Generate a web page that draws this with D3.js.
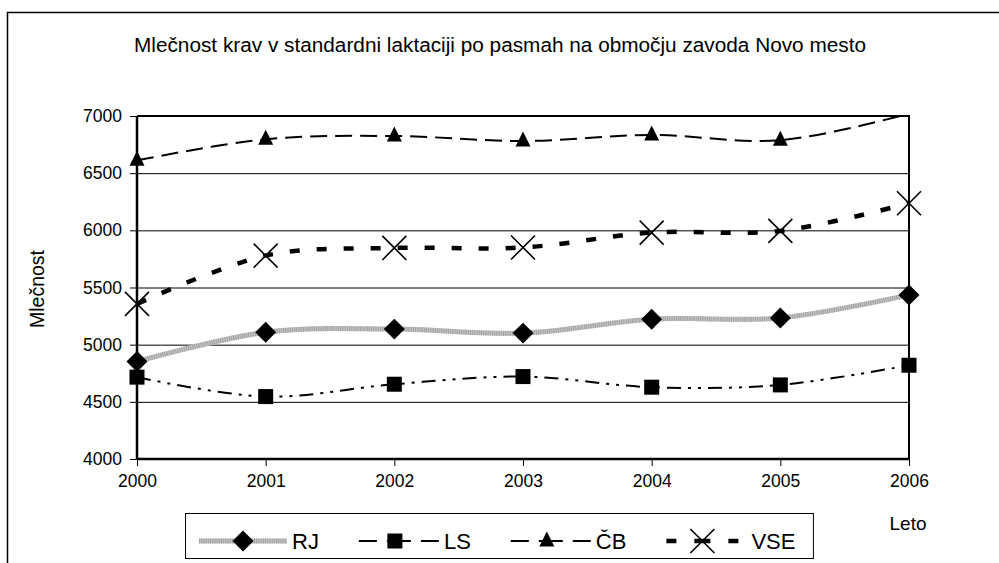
<!DOCTYPE html>
<html>
<head>
<meta charset="utf-8">
<script src="https://cdn.jsdelivr.net/npm/d3@7"></script>
<style>
  body { margin: 0; background: #fff; }
  svg { display: block; font-family: "Liberation Sans", Arial, sans-serif; }
</style>
</head>
<body>
<div id="chart"></div>
<script>
var years = ["2000", "2001", "2002", "2003", "2004", "2005", "2006"];
var rj  = [4852, 5109, 5136, 5101, 5223, 5234, 5435];
var ls  = [4716, 4546, 4654, 4721, 4628, 4648, 4820];
var cb  = [6612, 6797, 6825, 6781, 6834, 6788, 7020];
var vse = [5357, 5779, 5846, 5850, 5980, 5995, 6237];
var yTicks = [4000, 4500, 5000, 5500, 6000, 6500, 7000];
var seriesNames = ["RJ", "LS", "ČB", "VSE"];

var w = 999, h = 563;
var plotL = 137, plotR = 909, plotT = 116, plotB = 459;

var svg = d3.select("#chart").append("svg")
  .attr("width", w).attr("height", h);

// outer chart border (runs off the page on right and bottom)
svg.append("rect")
  .attr("x", 7.5).attr("y", 12.5)
  .attr("width", 1100).attr("height", 700)
  .attr("fill", "none").attr("stroke", "#000").attr("stroke-width", 1.5);

svg.append("text")
  .attr("x", 500).attr("y", 52)
  .attr("text-anchor", "middle")
  .attr("font-size", "20px")
  .attr("textLength", 732)
  .attr("lengthAdjust", "spacingAndGlyphs")
  .text("Mlečnost krav v standardni laktaciji po pasmah na območju zavoda Novo mesto");

var xScale = d3.scalePoint().domain(years).range([plotL, plotR]);
var yScale = d3.scaleLinear().domain([4000, 7000]).range([plotB, plotT]);

// gridlines
svg.append("g").selectAll("line")
  .data(yTicks.slice(1, -1))
  .enter().append("line")
  .attr("x1", plotL).attr("x2", plotR)
  .attr("y1", function(d){ return yScale(d) + 0.5; })
  .attr("y2", function(d){ return yScale(d) + 0.5; })
  .attr("stroke", "#000").attr("stroke-width", 1);

// plot area frame (top + right)
svg.append("path")
  .attr("d", "M" + plotL + "," + plotT + "H" + plotR + "V" + plotB)
  .attr("fill", "none").attr("stroke", "#000").attr("stroke-width", 2);

var yAxis = svg.append("g")
  .attr("transform", "translate(" + plotL + ",0)")
  .call(d3.axisLeft(yScale).tickValues(yTicks).tickSize(7).tickPadding(8).tickFormat(d3.format("d")));
var xAxis = svg.append("g")
  .attr("transform", "translate(0," + plotB + ")")
  .call(d3.axisBottom(xScale).tickSize(7).tickPadding(9));

[yAxis, xAxis].forEach(function(a){
  a.select(".domain").attr("stroke", "#000").attr("stroke-width", 2.5);
  a.selectAll(".tick line").attr("stroke", "#000").attr("stroke-width", 1);
  a.selectAll("text").attr("font-size", "17.5px").attr("fill", "#000")
    .attr("font-family", "'Liberation Sans', Arial, sans-serif");
});
xAxis.select(".domain").attr("d", "M" + plotL + ",0H" + plotR);
yAxis.select(".domain").attr("d", "M0," + plotB + "V" + plotT);

svg.append("text")
  .attr("transform", "translate(44,289) rotate(-90)")
  .attr("text-anchor", "middle")
  .attr("font-size", "19.5px")
  .text("Mlečnost");
svg.append("text")
  .attr("x", 908).attr("y", 530)
  .attr("text-anchor", "middle")
  .attr("font-size", "19px")
  .text("Leto");

svg.append("clipPath").attr("id", "plotclip")
  .append("rect").attr("x", plotL).attr("y", plotT - 0.5)
  .attr("width", plotR - plotL + 2).attr("height", plotB - plotT + 1);

var line = d3.line()
  .x(function(d, i){ return xScale(years[i]); })
  .y(function(d){ return yScale(d); })
  .curve(d3.curveCardinal.tension(0));

var styles = [
  { data: rj,  stroke: "#c4c4c4", width: 5, dash: null, legDash: null, marker: "diamond" },
  { data: ls,  stroke: "#000", width: 2, dash: "14,7,3,7,3,7", legDash: "0,8,18,10,24,10,18", marker: "square" },
  { data: cb,  stroke: "#000", width: 2, dash: "17,8", legDash: "0,8,18,10,24,10,18", marker: "triangle" },
  { data: vse, stroke: "#000", width: 4.5, dash: "10,17", legDash: "0,8,10,18,16,18,10,20", marker: "cross" }
];

var lines = svg.append("g").attr("clip-path", "url(#plotclip)");
styles.forEach(function(s){
  lines.append("path")
    .attr("d", line(s.data))
    .attr("fill", "none")
    .attr("stroke", s.stroke)
    .attr("stroke-width", s.width)
    .attr("stroke-dasharray", s.dash);
  if (s.marker === "diamond") {
    // hatched look of the grey line
    lines.append("path")
      .attr("d", line(s.data))
      .attr("fill", "none")
      .attr("stroke", "#a0a0a0")
      .attr("stroke-width", s.width)
      .attr("stroke-dasharray", "1,1.2");
  }
});

function drawMarker(g, type, x, y) {
  if (type === "diamond") {
    g.append("path").attr("d", d3.symbol().type(d3.symbolDiamond2).size(280)())
      .attr("transform", "translate(" + x + "," + y + ")").attr("fill", "#000");
  } else if (type === "square") {
    g.append("rect").attr("x", x - 7.5).attr("y", y - 7.5).attr("width", 15).attr("height", 15).attr("fill", "#000");
  } else if (type === "triangle") {
    g.append("path").attr("d", "M" + x + "," + (y - 9.5) + "L" + (x + 7.5) + "," + (y + 5.5) + "L" + (x - 7.5) + "," + (y + 5.5) + "Z")
      .attr("fill", "#000");
  } else {
    g.append("path").attr("d", "M" + (x - 12) + "," + (y - 12) + "L" + (x + 12) + "," + (y + 12) + "M" + (x - 12) + "," + (y + 12) + "L" + (x + 12) + "," + (y - 12))
      .attr("stroke", "#000").attr("stroke-width", 1.6).attr("fill", "none");
  }
}

var markers = svg.append("g");
styles.forEach(function(s){
  s.data.forEach(function(v, i){
    if (v > 7000 || v < 4000) return;
    drawMarker(markers, s.marker, xScale(years[i]), yScale(v));
  });
});

// legend: items laid out one after another, like Excel
var legend = svg.append("g");
var box = legend.append("rect")
  .attr("x", 185.5).attr("y", 513.5).attr("height", 45)
  .attr("fill", "#fff").attr("stroke", "#000").attr("stroke-width", 1);
var ly = 541;
var cursor = 199;
styles.forEach(function(s, i){
  var x0 = cursor;
  legend.append("line")
    .attr("x1", x0).attr("x2", x0 + 88).attr("y1", ly).attr("y2", ly)
    .attr("stroke", s.stroke).attr("stroke-width", s.width)
    .attr("stroke-dasharray", s.legDash);
  if (s.marker === "diamond") {
    legend.append("line")
      .attr("x1", x0).attr("x2", x0 + 88).attr("y1", ly).attr("y2", ly)
      .attr("stroke", "#a0a0a0").attr("stroke-width", s.width).attr("stroke-dasharray", "1,1.2");
  }
  drawMarker(legend, s.marker, x0 + 44, ly);
  var t = legend.append("text")
    .attr("x", x0 + 93).attr("y", ly + 8)
    .attr("font-size", "22px")
    .text(seriesNames[i]);
  cursor = x0 + 93 + t.node().getComputedTextLength() + 32;
});
box.attr("width", cursor - 32 + 18 - 185.5);
</script>
</body>
</html>
